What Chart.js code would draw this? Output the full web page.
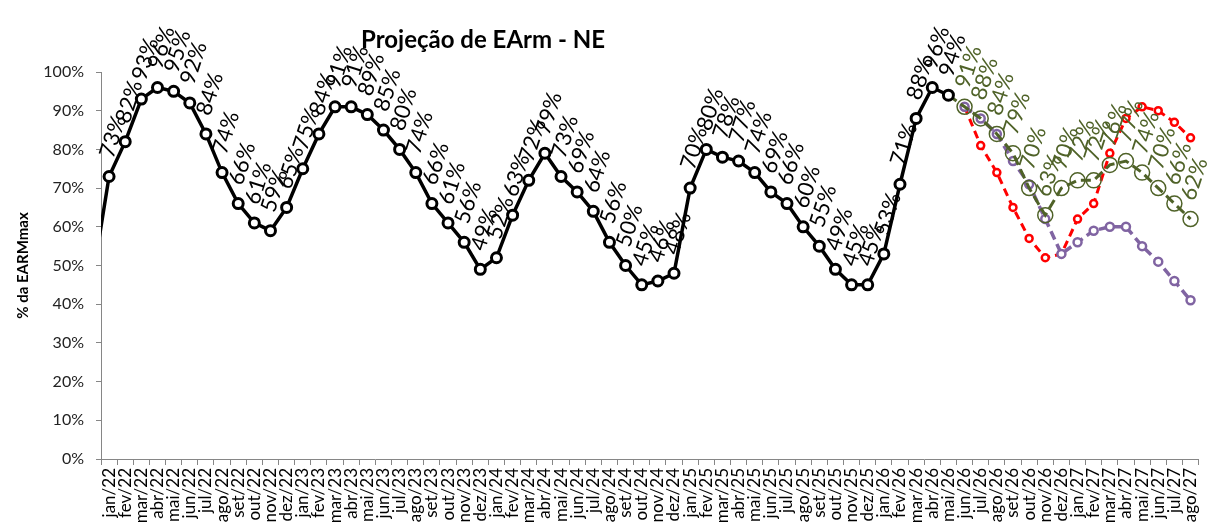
<!DOCTYPE html>
<html>
<head>
<meta charset="utf-8">
<title>Projeção de EArm - NE</title>
<script src="https://cdn.jsdelivr.net/npm/chart.js@4.4.0/dist/chart.umd.min.js"></script>
<style>
  html, body { margin: 0; padding: 0; background: #fff; }
</style>
</head>
<body>
<canvas id="chart" width="1214" height="522"></canvas>
<script>
const meses = ['jan', 'fev', 'mar', 'abr', 'mai', 'jun', 'jul', 'ago', 'set', 'out', 'nov', 'dez'];
const anos = ['22', '23', '24', '25', '26', '27'];

// dez/21 only feeds the line coming in from the left edge
const categorias = ['dez/21'];
anos.forEach(a => meses.forEach(m => categorias.push(m + '/' + a)));
categorias.length = categorias.indexOf('ago/27') + 1;

// EAR verificada (% EARmax), dez/21 .. mai/26
const verificado = [47,
  73, 82, 93, 96, 95, 92, 84, 74, 66, 61, 59, 65,
  75, 84, 91, 91, 89, 85, 80, 74, 66, 61, 56, 49,
  52, 63, 72, 79, 73, 69, 64, 56, 50, 45, 46, 48,
  70, 80, 78, 77, 74, 69, 66, 60, 55, 49, 45, 45,
  53, 71, 88, 96, 94];

// projeções, a partir de mai/26 (verde) e jun/26 (demais)
const projecaoVerde = [94, 91, 88, 84, 79, 70, 63, 70, 72, 72, 76, 77, 74, 70, 66, 62];
const projecaoRoxa = [91, 88, 84, 77, 71, 62, 53, 56, 59, 60, 60, 55, 51, 46, 41];
const projecaoVermelha = [91, 81, 74, 65, 57, 52, 53, 62, 66, 79, 88, 91, 90, 87, 83];

const inicioVerde = categorias.indexOf('mai/26');
const inicioProj = categorias.indexOf('jun/26');

function place(start, values) {
  const out = new Array(categorias.length).fill(null);
  values.forEach((v, i) => { out[start + i] = v; });
  return out;
}

const FONT = 'Lato';
const LABEL_ANGLE = 72 * Math.PI / 180;

// rotated value labels above each point
const valueLabels = {
  id: 'valueLabels',
  afterDatasetsDraw(chart) {
    const ctx = chart.ctx;
    const area = chart.chartArea;
    chart.data.datasets.forEach((ds, i) => {
      if (!ds.showValues) return;
      const meta = chart.getDatasetMeta(i);
      ctx.save();
      ctx.font = '22px ' + FONT;
      ctx.fillStyle = ds.borderColor;
      ctx.textAlign = 'center';
      ctx.textBaseline = 'middle';
      meta.data.forEach((pt, j) => {
        const v = ds.data[j];
        if (v == null || j < ds.firstLabel || pt.x < area.left) return;
        const text = v + '%';
        const w = ctx.measureText(text).width;
        const h = 16;
        const rise = (w * Math.sin(LABEL_ANGLE) + h * Math.cos(LABEL_ANGLE)) / 2 + 17;
        ctx.save();
        ctx.translate(pt.x + 4, pt.y - rise);
        ctx.rotate(-LABEL_ANGLE);
        ctx.fillText(text, 0, 0);
        ctx.restore();
      });
      ctx.restore();
    });
  }
};

const chartTitle = {
  id: 'chartTitle',
  afterDraw(chart) {
    const ctx = chart.ctx;
    ctx.save();
    ctx.font = 'bold 24px ' + FONT;
    ctx.fillStyle = '#000';
    ctx.textAlign = 'center';
    ctx.textBaseline = 'alphabetic';
    ctx.fillText('Projeção de EArm - NE', 483, 48);
    ctx.restore();
  }
};

const ctx = document.getElementById('chart').getContext('2d');
new Chart(ctx, {
  type: 'line',
  data: {
    labels: categorias,
    datasets: [
      {
        label: 'Verificado',
        data: place(0, verificado),
        borderColor: '#000000',
        borderWidth: 3.5,
        pointRadius: 5,
        pointBorderWidth: 3,
        pointBackgroundColor: '#ffffff',
        pointBorderColor: '#000000',
        showValues: true,
        firstLabel: 1
      },
      {
        label: 'Projeção 1',
        data: place(inicioVerde, projecaoVerde),
        borderColor: '#4F6228',
        borderWidth: 3,
        borderDash: [10, 5],
        pointRadius: c => c.dataIndex === inicioVerde ? 0 : 7.5,
        pointBorderWidth: 1.5,
        pointBackgroundColor: 'rgba(255,255,255,0)',
        pointBorderColor: '#4F6228',
        showValues: true,
        firstLabel: inicioVerde + 1
      },
      {
        label: 'Projeção 2',
        data: place(inicioProj, projecaoRoxa),
        borderColor: '#8064A2',
        borderWidth: 3.5,
        borderDash: [9, 5],
        pointRadius: 4,
        pointBorderWidth: 2.5,
        pointBackgroundColor: '#ffffff',
        pointBorderColor: '#8064A2'
      },
      {
        label: 'Projeção 3',
        data: place(inicioProj, projecaoVermelha),
        borderColor: '#FF0000',
        borderWidth: 3,
        borderDash: [8, 5],
        pointRadius: 3.5,
        pointBorderWidth: 2.5,
        pointBackgroundColor: '#ffffff',
        pointBorderColor: '#FF0000'
      }
    ]
  },
  options: {
    responsive: false,
    animation: false,
    devicePixelRatio: 1,
    layout: { padding: { top: 72, right: 3, left: 0, bottom: 0 } },
    plugins: {
      legend: { display: false },
      tooltip: { enabled: false }
    },
    scales: {
      x: {
        type: 'category',
        min: 'jan/22',
        offset: true,
        afterFit: s => { s.height = 63; },
        grid: { offset: true, drawOnChartArea: false, tickLength: 6, color: '#868686' },
        border: { color: '#868686', width: 1 },
        ticks: {
          autoSkip: false,
          minRotation: 90,
          maxRotation: 90,
          padding: 3,
          color: '#000',
          font: { family: FONT, size: 17 }
        }
      },
      y: {
        min: 0,
        max: 100,
        afterFit: s => { s.width = 101; },
        grid: { drawOnChartArea: false, tickLength: 5, color: '#868686' },
        border: { color: '#868686', width: 1 },
        ticks: {
          stepSize: 10,
          padding: 12,
          color: '#222',
          font: { family: FONT, size: 16 },
          callback: v => v + '%'
        },
        title: {
          display: true,
          text: '% da EARMmax',
          color: '#000',
          font: { family: FONT, size: 15, weight: 'bold' },
          padding: { top: 14, bottom: 0 }
        }
      }
    }
  },
  plugins: [valueLabels, chartTitle]
});
</script>
</body>
</html>
